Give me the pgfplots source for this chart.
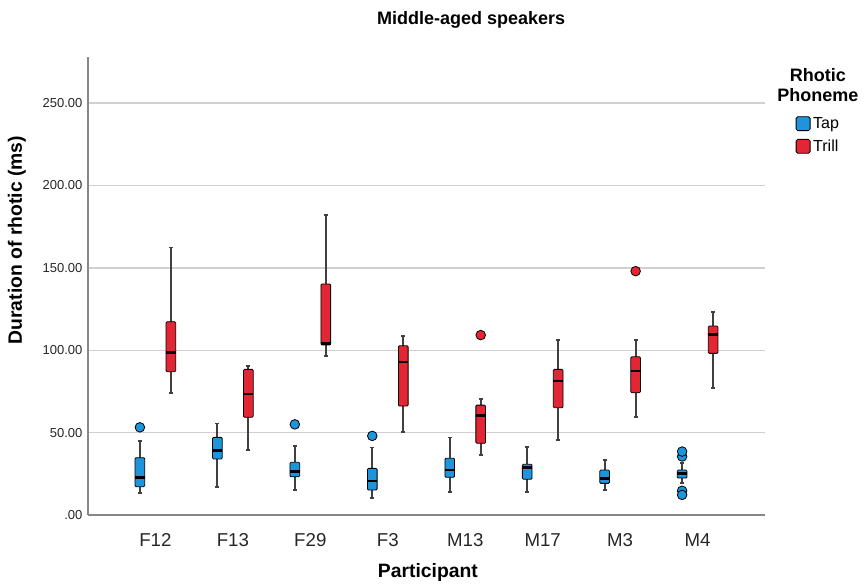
\documentclass[border=0pt]{standalone}
\usepackage{pgfplots}
\pgfplotsset{compat=1.18}
\usepgfplotslibrary{statistics}
\usepackage{fontspec}
\setmainfont{Liberation Sans}

\definecolor{tapc}{RGB}{30,148,218}
\definecolor{trillc}{RGB}{226,38,52}
\definecolor{axisgray}{RGB}{135,135,135}
\definecolor{gridgray}{RGB}{208,208,208}

\pgfplotsset{
  commonbp/.style={
    draw=black, mark=*, mark size=3.6pt,
    boxplot/draw direction=y,
    boxplot/box extend=0.125,
    boxplot/whisker extend=0.05,
    boxplot/every whisker/.style={draw=black!75, line width=1.3pt},
    boxplot/every median/.style={draw=black, line width=2pt},
  },
  tapbp/.style={commonbp,
    mark options={fill=tapc, draw=black, line width=0.6pt},
    boxplot/every box/.style={fill=tapc, draw=black, line width=0.6pt, rounded corners=0.8pt},
  },
  trillbp/.style={commonbp,
    mark options={fill=trillc, draw=black, line width=0.6pt},
    boxplot/every box/.style={fill=trillc, draw=black, line width=0.6pt, rounded corners=0.8pt},
  },
}

\begin{document}
\begin{tikzpicture}
\useasboundingbox (0,0) rectangle (650.25pt,441pt);
\begin{axis}[
  at={(66pt,54.75pt)}, anchor=south west,
  scale only axis, width=507.75pt, height=343.5pt,
  xmin=-0.87, xmax=7.87, ymin=0, ymax=278,
  axis lines=left,
  axis line style={-, draw=axisgray, line width=1.5pt},
  major tick length=0pt,
  ymajorgrids, grid style={draw=gridgray, line width=1.1pt},
  ytick={0,50,100,150,200,250},
  yticklabels={.00,50.00,100.00,150.00,200.00,250.00},
  xtick={0,1,2,3,4,5,6,7},
  xticklabels={F12,F13,F29,F3,M13,M17,M3,M4},
  /pgf/number format/assume math mode=true,
  yticklabel style={font=\fontsize{9.75}{11}\selectfont, anchor=east, inner sep=0pt, xshift=-4pt, text=black!85},
  xticklabel style={font=\fontsize{14}{16}\selectfont, anchor=base, yshift=-24pt, text=black!85},
  title={Middle-aged speakers},
  title style={at={(0.566,1.063)}, anchor=center, font=\bfseries\fontsize{13.5}{16}\selectfont},
  xlabel={Participant},
  xlabel style={at={(0.502,-0.1245)}, anchor=center, font=\bfseries\fontsize{14.5}{16}\selectfont},
  ylabel={Duration of rhotic (ms)},
  ylabel style={at={(-0.105,0.6)}, anchor=center, font=\bfseries\fontsize{14.5}{16}\selectfont},
  legend style={at={(1.045,0.875)}, anchor=north west, draw=none, fill=none,
    font=\fontsize{12}{14}\selectfont, inner sep=0pt, row sep=3pt},
  legend cell align=left,
  clip=false,
]

% Tap
\addplot+[tapbp, forget plot, boxplot prepared={draw position=-0.2,
  lower whisker=13.3, lower quartile=17.2, median=22.9, upper quartile=34.8, upper whisker=45}]
  table[row sep=\\, y index=0] {53.2\\};
\addplot+[tapbp, forget plot, boxplot prepared={draw position=0.8,
  lower whisker=17.2, lower quartile=34, median=39, upper quartile=47.1, upper whisker=55.6}]
  coordinates {};
\addplot+[tapbp, forget plot, boxplot prepared={draw position=1.8,
  lower whisker=15.2, lower quartile=23.2, median=26.3, upper quartile=32, upper whisker=42}]
  table[row sep=\\, y index=0] {55\\};
\addplot+[tapbp, forget plot, boxplot prepared={draw position=2.8,
  lower whisker=10.5, lower quartile=15.2, median=20.6, upper quartile=28.3, upper whisker=41}]
  table[row sep=\\, y index=0] {48\\};
\addplot+[tapbp, forget plot, boxplot prepared={draw position=3.8,
  lower whisker=14.1, lower quartile=22.9, median=27.3, upper quartile=34.4, upper whisker=47.1}]
  coordinates {};
\addplot+[tapbp, forget plot, boxplot prepared={draw position=4.8,
  lower whisker=14.1, lower quartile=21.7, median=28.8, upper quartile=30.8, upper whisker=41.3}]
  coordinates {};
\addplot+[tapbp, forget plot, boxplot prepared={draw position=5.8,
  lower whisker=15.2, lower quartile=19.2, median=22.3, upper quartile=27.3, upper whisker=33.4}]
  coordinates {};
\addplot+[tapbp, forget plot, boxplot prepared={draw position=6.8,
  lower whisker=19.5, lower quartile=22.4, median=25.3, upper quartile=27.3, upper whisker=31.5}]
  table[row sep=\\, y index=0] {35.5\\ 38.5\\ 14.7\\ 12.2\\};

% Trill
\addplot+[trillbp, forget plot, boxplot prepared={draw position=0.2,
  lower whisker=74.2, lower quartile=87, median=98.5, upper quartile=117.3, upper whisker=162.4}]
  coordinates {};
\addplot+[trillbp, forget plot, boxplot prepared={draw position=1.2,
  lower whisker=39.4, lower quartile=59.3, median=73.4, upper quartile=88.4, upper whisker=90.6}]
  coordinates {};
\addplot+[trillbp, forget plot, boxplot prepared={draw position=2.2,
  lower whisker=96.5, lower quartile=103.2, median=104.2, upper quartile=140.2, upper whisker=182.2}]
  coordinates {};
\addplot+[trillbp, forget plot, boxplot prepared={draw position=3.2,
  lower whisker=50.2, lower quartile=66.1, median=92.8, upper quartile=102.7, upper whisker=108.6}]
  coordinates {};
\addplot+[trillbp, forget plot, boxplot prepared={draw position=4.2,
  lower whisker=36.2, lower quartile=43.5, median=60.3, upper quartile=66.7, upper whisker=70.2}]
  table[row sep=\\, y index=0] {109.2\\};
\addplot+[trillbp, forget plot, boxplot prepared={draw position=5.2,
  lower whisker=45.5, lower quartile=65.1, median=81.3, upper quartile=88.4, upper whisker=106.2}]
  coordinates {};
\addplot+[trillbp, forget plot, boxplot prepared={draw position=6.2,
  lower whisker=59.7, lower quartile=74.2, median=87.4, upper quartile=96, upper whisker=106.2}]
  table[row sep=\\, y index=0] {148\\};
\addplot+[trillbp, forget plot, boxplot prepared={draw position=7.2,
  lower whisker=77.3, lower quartile=98.1, median=109.6, upper quartile=114.7, upper whisker=123.2}]
  coordinates {};

% Legend
\addlegendimage{legend image code/.code={\draw[fill=tapc, draw=black, line width=0.6pt, rounded corners=1.2pt] (0pt,-5.2pt) rectangle (10.5pt,5.2pt);}}
\addlegendentry{Tap}
\addlegendimage{legend image code/.code={\draw[fill=trillc, draw=black, line width=0.6pt, rounded corners=1.2pt] (0pt,-5.2pt) rectangle (10.5pt,5.2pt);}}
\addlegendentry{Trill}

\node[align=center, font=\bfseries\fontsize{13.5}{15}\selectfont] at (rel axis cs:1.078,0.939) {Rhotic\\Phoneme};
\end{axis}
\end{tikzpicture}
\end{document}
